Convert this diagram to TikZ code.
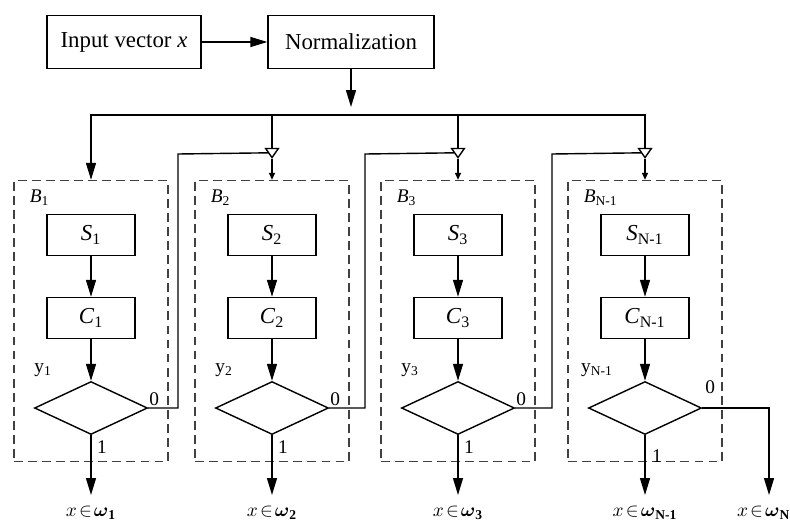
\documentclass[tikz,border=0pt]{standalone}
\usepackage{amsmath, amssymb}
\usepackage{fontspec}
\setmainfont{Liberation Serif}
\usetikzlibrary{positioning, arrows.meta, shapes.geometric}

\begin{document}
\begin{tikzpicture}[x=0.02cm, y=-0.02cm, line width=0.8pt,
        font=\fontsize{13}{15}\selectfont,
        >={Triangle[length=0.34cm, width=0.2cm]},
        box/.style={draw, minimum width=1.76cm, minimum height=0.82cm},
        test/.style={draw, diamond, minimum width=2.26cm, minimum height=1.06cm, inner sep=0pt},
        group/.style={draw=black!75, dash pattern=on 5pt off 3pt, minimum width=3.08cm, minimum height=5.62cm},
        small/.style={font=\fontsize{11}{13}\selectfont, inner sep=1pt},
        gate/.style={-{Triangle[open, length=0.22cm, width=0.3cm]}}]
    \useasboundingbox (0,0) rectangle (790,524);

    \node[draw, minimum width=3.08cm, minimum height=1.06cm] (input) at (124,42) {Input vector \textit{x}};
    \node[draw, minimum width=3.32cm, minimum height=1.06cm] (norm) at (351,42) {Normalization};
    \draw[->] (input) -- (norm);
    \coordinate (split) at (351,107);
    \coordinate (bus) at (351,115);
    \draw[->] (norm) -- (split);

    % the blocks B_i
    \foreach \i/\x/\k in {1/91/1, 2/272/2, 3/458/3, 4/645/N-1} {
        \node[group] (B\i) at (\x,321) {};
        \node[small, anchor=north west] (lb\i) at ([shift={(14,8)}]B\i.north west) {\textit{B}\textsubscript{\k}};
        \node[box] (S\i) at (\x,235) {\textit{S}\textsubscript{\k}};
        \node[box] (C\i) at (\x,318) {\textit{C}\textsubscript{\k}};
        \node[test] (D\i) at (\x,408) {};
        \node[small] (y\i) at (\x-48,370) {y\textsubscript{\k}};
        \coordinate (out\i) at (\x,495);
        \node[small, below=5pt of out\i] (w\i) {$x\!\in\!\boldsymbol{\omega}_{\textbf{\k}}$};
        \draw[->] (S\i) -- (C\i);
        \draw[->] (C\i) -- (D\i);
        \draw[->] (D\i) -- (out\i);
    }

    % bus and gates
    \draw[->] (bus) -| (B1.north);
    \foreach \i in {2,3,4} {
        \coordinate (g\i) at ([shift={(0,-21)}]B\i.north);
        \draw[gate] (bus) -| (g\i);
        \draw[->, >={Triangle[length=0.14cm, width=0.12cm]}] (g\i) -- (B\i.north);
    }

    % feedback on 0
    \draw (D1.east) -| (178,154) -- ([shift={(-4,-6)}]g2);
    \draw (D2.east) -| (365,154) -- ([shift={(-4,-6)}]g3);
    \draw (D3.east) -| (552,154) -- ([shift={(-4,-6)}]g4);
    \coordinate (out5) at (769,495);
    \draw[->] (D4.east) -| (out5);
    \node[small, below=5pt of out5, xshift=-3pt] (w5) {$x\!\in\!\boldsymbol{\omega}_{\textbf{N}}$};

    \node[small] (z1) at ([shift={(6,-9)}]D1.east) {0};
    \node[small] (z2) at ([shift={(6,-9)}]D2.east) {0};
    \node[small] (z3) at ([shift={(6,-9)}]D3.east) {0};
    \node[small] (z4) at ([shift={(8,-21)}]D4.east) {0};
    \node[small] (o1) at ([shift={(11,12)}]D1.south) {1};
    \node[small] (o2) at ([shift={(11,12)}]D2.south) {1};
    \node[small] (o3) at ([shift={(11,12)}]D3.south) {1};
    \node[small] (o4) at ([shift={(12,21)}]D4.south) {1};
\end{tikzpicture}
\end{document}
